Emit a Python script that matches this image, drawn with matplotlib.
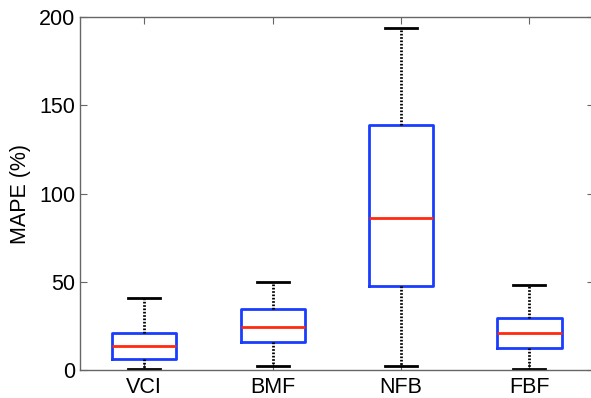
import matplotlib
matplotlib.use("Agg")
import matplotlib.pyplot as plt

categories = ["VCI", "BMF", "NFB", "FBF"]
whislo = [0.6, 2.4, 2.3, 0.6]
q1 = [6.0, 15.8, 47.6, 12.6]
med = [13.6, 24.3, 86.0, 21.0]
q3 = [20.8, 34.4, 138.8, 29.3]
whishi = [41.0, 50.0, 194.0, 48.2]
yticks = [0, 50, 100, 150, 200]

plt.rcParams['font.family'] = ['Liberation Sans', 'DejaVu Sans']

fig = plt.figure(figsize=(5.91, 3.98), dpi=100)
W, H = 591, 398
left, right, top, bottom = 80, 593.6, 17, 370
ax = fig.add_axes([left / W, 1 - bottom / H, (right - left) / W, (bottom - top) / H])

stats = []
for i, c in enumerate(categories):
    stats.append(dict(label=c, whislo=whislo[i], q1=q1[i], med=med[i],
                      q3=q3[i], whishi=whishi[i], fliers=[]))

ax.bxp(stats, positions=[1, 2, 3, 4], widths=0.5, showfliers=False,
       boxprops=dict(color='#1a3cff', linewidth=2),
       medianprops=dict(color='#ff2a10', linewidth=2),
       whiskerprops=dict(color='black', linewidth=2, linestyle=(0, (0.6, 0.6))),
       capprops=dict(color='black', linewidth=2),
       capwidths=0.25)

ax.set_xlim(0.5, 4.5)
ax.set_ylim(0, 200)
ax.set_yticks(yticks)
ax.set_xticks([1, 2, 3, 4])
ax.set_xticklabels(categories)
ax.set_ylabel("MAPE (%)", fontsize=15.5, labelpad=6)
ax.tick_params(axis='both', direction='in', length=5, width=0.8, color='#666666',
               labelsize=15.5, top=True, right=True)
ax.tick_params(axis='x', pad=5)
for s in ['left', 'bottom', 'top']:
    ax.spines[s].set_color('#666666')
    ax.spines[s].set_linewidth(1)
ax.spines['right'].set_visible(False)

fig.savefig("out.png", dpi=100)
